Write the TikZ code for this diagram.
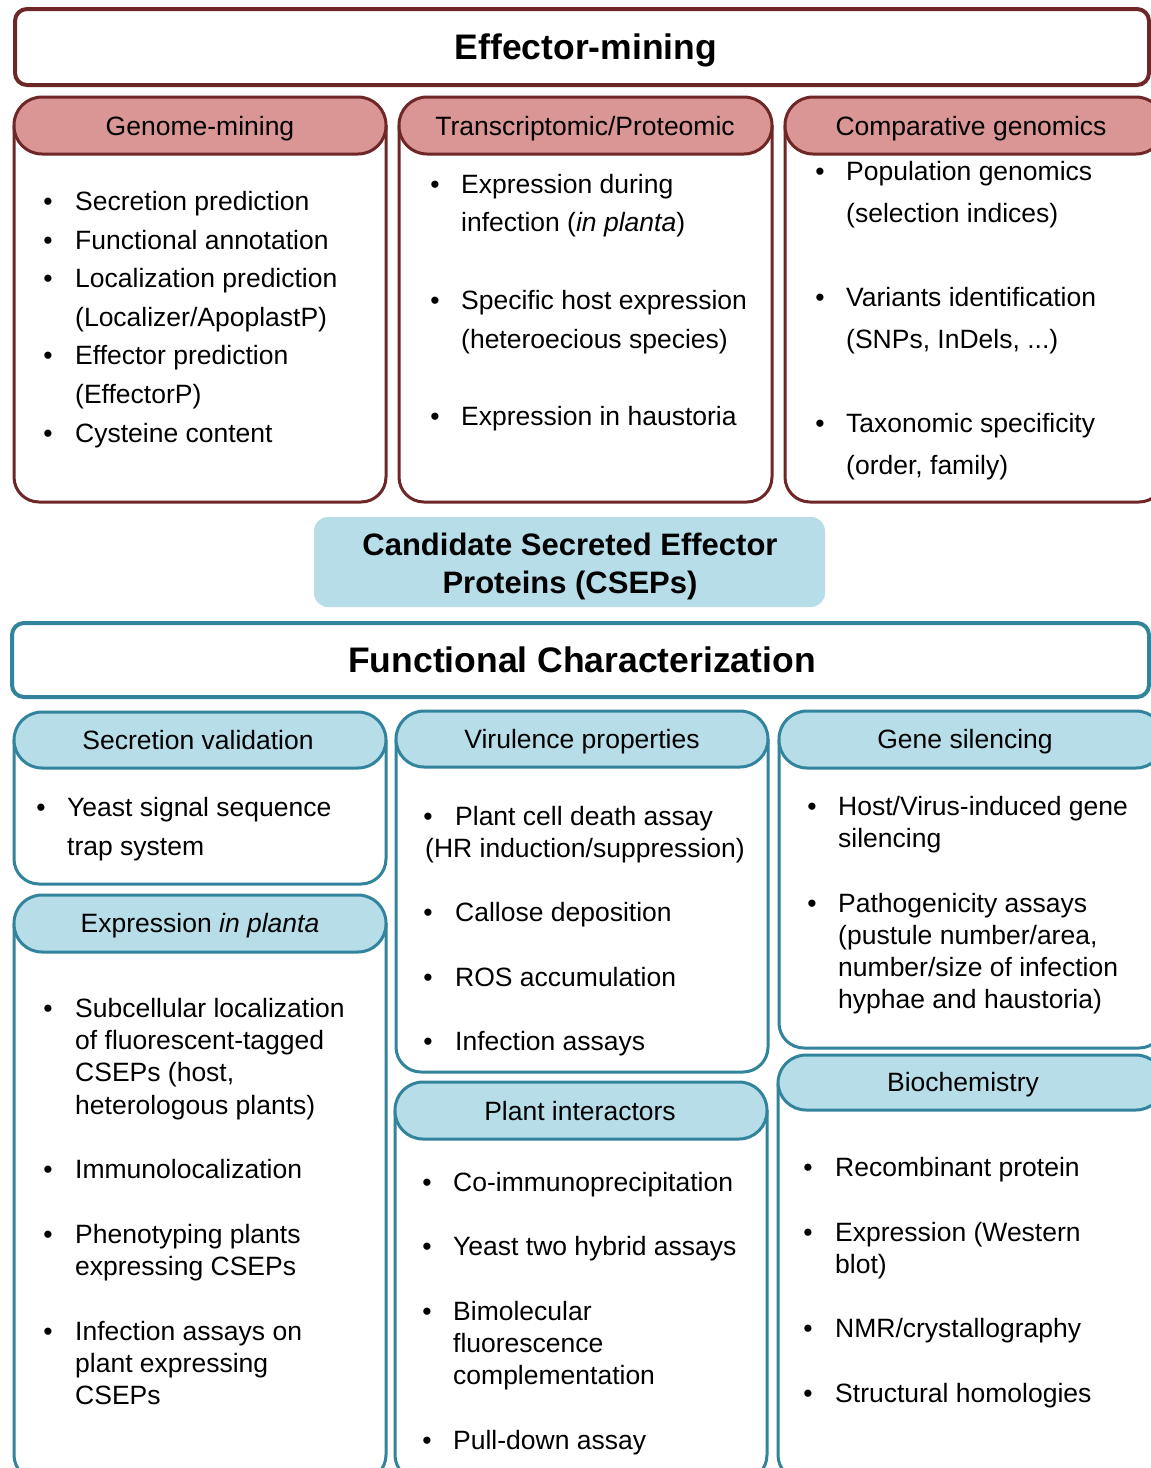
\documentclass[tikz,border=0pt]{standalone}
\usepackage{fontspec}
\setmainfont{Liberation Sans}
\definecolor{rdk}{RGB}{110,38,38}
\definecolor{rfill}{RGB}{217,150,148}
\definecolor{bdk}{RGB}{49,132,155}
\definecolor{bfill}{RGB}{183,221,232}
\tikzset{
  pillR/.style={draw=rdk, fill=rfill, line width=3pt, rounded corners=28pt},
  pillB/.style={draw=bdk, fill=bfill, line width=3pt, rounded corners=28pt},
  bodyR/.style={draw=rdk, line width=3pt, rounded corners=25pt},
  bodyB/.style={draw=bdk, line width=3pt, rounded corners=25pt},
  titlebox/.style={line width=4pt, fill=white, rounded corners=12pt},
  bul/.style={anchor=base, inner sep=0pt, font=\fontsize{26.5}{32}\selectfont},
  txt/.style={anchor=base west, inner sep=0pt, font=\fontsize{26.5}{32}\selectfont},
  hdr/.style={anchor=base, inner sep=0pt, font=\fontsize{26.5}{32}\selectfont},
  ttl/.style={anchor=base, inner sep=0pt, font=\bfseries\fontsize{35.5}{40}\selectfont},
  csep/.style={anchor=base, inner sep=0pt, font=\bfseries\fontsize{31}{36}\selectfont},
}
\newcommand\bu[3]{\node[bul] (#1) at (#2,#3+9.5) {\textbullet};}
\newcommand\tx[4]{\node[txt] (#1) at (#2,#3+9.5) {#4};}
\begin{document}
\begin{tikzpicture}[x=1pt,y=-1pt]
\clip (0,0) rectangle (1151,1468);
\fill[white] (0,0) rectangle (1151,1468);

% ---------- Effector-mining ----------
\draw[titlebox, draw=rdk] (15,9) rectangle (1149,85);
\node[ttl] (em) at (586,59.5) {Effector-mining};

% columns top
\draw[bodyR] (14,125) -- (14,502) -- (386,502) -- (386,125);
\draw[pillR] (14,97) rectangle (386,154);
\node[hdr] (gm) at (200,135.5) {Genome-mining};

\draw[bodyR] (399,125) -- (399,502) -- (772,502) -- (772,125);
\draw[pillR] (399,97) rectangle (772,154);
\node[hdr] (tp) at (585,135.5) {Transcriptomic/Proteomic};

\draw[bodyR] (785,125) -- (785,502) -- (1164,502) -- (1164,125);
\draw[pillR] (785,97) rectangle (1164,154);
\node[hdr] (cg) at (971,135.5) {Comparative genomics};

% Genome-mining items
\bu{gb1}{48}{201}\tx{gt1}{75}{201}{Secretion prediction}
\bu{gb2}{48}{240}\tx{gt2}{75}{240}{Functional annotation}
\bu{gb3}{48}{278}\tx{gt3}{75}{278}{Localization prediction}
\tx{gt3b}{75}{317}{(Localizer/ApoplastP)}
\bu{gb4}{48}{355}\tx{gt4}{75}{355}{Effector prediction}
\tx{gt4b}{75}{394}{(EffectorP)}
\bu{gb5}{48}{433}\tx{gt5}{75}{433}{Cysteine content}

% Transcriptomic items
\bu{tb1}{435}{184}\tx{tt1}{461}{184}{Expression during}
\tx{tt1b}{461}{222}{infection (\textit{in planta})}
\bu{tb2}{435}{300}\tx{tt2}{461}{300}{Specific host expression}
\tx{tt2b}{461}{339}{(heteroecious species)}
\bu{tb3}{435}{416}\tx{tt3}{461}{416}{Expression in haustoria}

% Comparative items
\bu{cb1}{820}{171}\tx{ct1}{846}{171}{Population genomics}
\tx{ct1b}{846}{213}{(selection indices)}
\bu{cb2}{820}{297}\tx{ct2}{846}{297}{Variants identification}
\tx{ct2b}{846}{339}{(SNPs, InDels, ...)}
\bu{cb3}{820}{423}\tx{ct3}{846}{423}{Taxonomic specificity}
\tx{ct3b}{846}{465}{(order, family)}

% ---------- CSEPs ----------
\fill[bfill, rounded corners=14pt] (314,517) rectangle (825,607);
\node[csep] (cs1) at (570,555) {Candidate Secreted Effector};
\node[csep] (cs2) at (570,593) {Proteins (CSEPs)};

% ---------- Functional Characterization ----------
\draw[titlebox, draw=bdk] (12,623) rectangle (1149,697);
\node[ttl] (fc) at (582,672.5) {Functional Characterization};

% Secretion validation
\draw[bodyB] (14,740) -- (14,884) -- (386,884) -- (386,740);
\draw[pillB] (14,712) rectangle (386,768);
\node[hdr] (sv) at (198,749.5) {Secretion validation};
\bu{sb1}{41}{807}\tx{st1}{67}{807}{Yeast signal sequence}
\tx{st1b}{67}{846}{trap system}

% Expression in planta
\draw[bodyB] (14,923) -- (14,1480) -- (386,1480) -- (386,923);
\draw[pillB] (14,895) rectangle (386,952);
\node[hdr] (ep) at (200,932) {Expression \textit{in planta}};
\bu{eb1}{48}{1008}\tx{et1}{75}{1008}{Subcellular localization}
\tx{et1b}{75}{1040}{of fluorescent-tagged}
\tx{et1c}{75}{1072}{CSEPs (host,}
\tx{et1d}{75}{1105}{heterologous plants)}
\bu{eb2}{48}{1169}\tx{et2}{75}{1169}{Immunolocalization}
\bu{eb3}{48}{1234}\tx{et3}{75}{1234}{Phenotyping plants}
\tx{et3b}{75}{1266}{expressing CSEPs}
\bu{eb4}{48}{1331}\tx{et4}{75}{1331}{Infection assays on}
\tx{et4b}{75}{1363}{plant expressing}
\tx{et4c}{75}{1395}{CSEPs}

% Virulence properties
\draw[bodyB] (396,739) -- (396,1072) -- (768,1072) -- (768,739);
\draw[pillB] (396,711) rectangle (768,767);
\node[hdr] (vp) at (582,748.5) {Virulence properties};
\bu{vb1}{428}{816}\tx{vt1}{455}{816}{Plant cell death assay}
\tx{vt1b}{425}{848}{(HR induction/suppression)}
\bu{vb2}{428}{912}\tx{vt2}{455}{912}{Callose deposition}
\bu{vb3}{428}{977}\tx{vt3}{455}{977}{ROS accumulation}
\bu{vb4}{428}{1041}\tx{vt4}{455}{1041}{Infection assays}

% Plant interactors
\draw[bodyB] (395,1110) -- (395,1480) -- (767,1480) -- (767,1110);
\draw[pillB] (395,1082) rectangle (767,1139);
\node[hdr] (pi) at (580,1120.5) {Plant interactors};
\bu{pb1}{427}{1182}\tx{pt1}{453}{1182}{Co-immunoprecipitation}
\bu{pb2}{427}{1246}\tx{pt2}{453}{1246}{Yeast two hybrid assays}
\bu{pb3}{427}{1311}\tx{pt3}{453}{1311}{Bimolecular}
\tx{pt3b}{453}{1343}{fluorescence}
\tx{pt3c}{453}{1375}{complementation}
\bu{pb4}{427}{1440}\tx{pt4}{453}{1440}{Pull-down assay}

% Gene silencing
\draw[bodyB] (779,739) -- (779,1048) -- (1164,1048) -- (1164,739);
\draw[pillB] (779,711) rectangle (1164,768);
\node[hdr] (gs) at (965,748.5) {Gene silencing};
\bu{hb1}{812}{806}\tx{ht1}{838}{806}{Host/Virus-induced gene}
\tx{ht1b}{838}{838}{silencing}
\bu{hb2}{812}{903}\tx{ht2}{838}{903}{Pathogenicity assays}
\tx{ht2b}{838}{935}{(pustule number/area,}
\tx{ht2c}{838}{967}{number/size of infection}
\tx{ht2d}{838}{999}{hyphae and haustoria)}

% Biochemistry
\draw[bodyB] (778,1083) -- (778,1480) -- (1164,1480) -- (1164,1083);
\draw[pillB] (778,1055) rectangle (1164,1110);
\node[hdr] (bc) at (963,1091.5) {Biochemistry};
\bu{bb1}{808}{1167}\tx{bt1}{835}{1167}{Recombinant protein}
\bu{bb2}{808}{1232}\tx{bt2}{835}{1232}{Expression (Western}
\tx{bt2b}{835}{1264}{blot)}
\bu{bb3}{808}{1328}\tx{bt3}{835}{1328}{NMR/crystallography}
\bu{bb4}{808}{1393}\tx{bt4}{835}{1393}{Structural homologies}
\end{tikzpicture}
\end{document}
